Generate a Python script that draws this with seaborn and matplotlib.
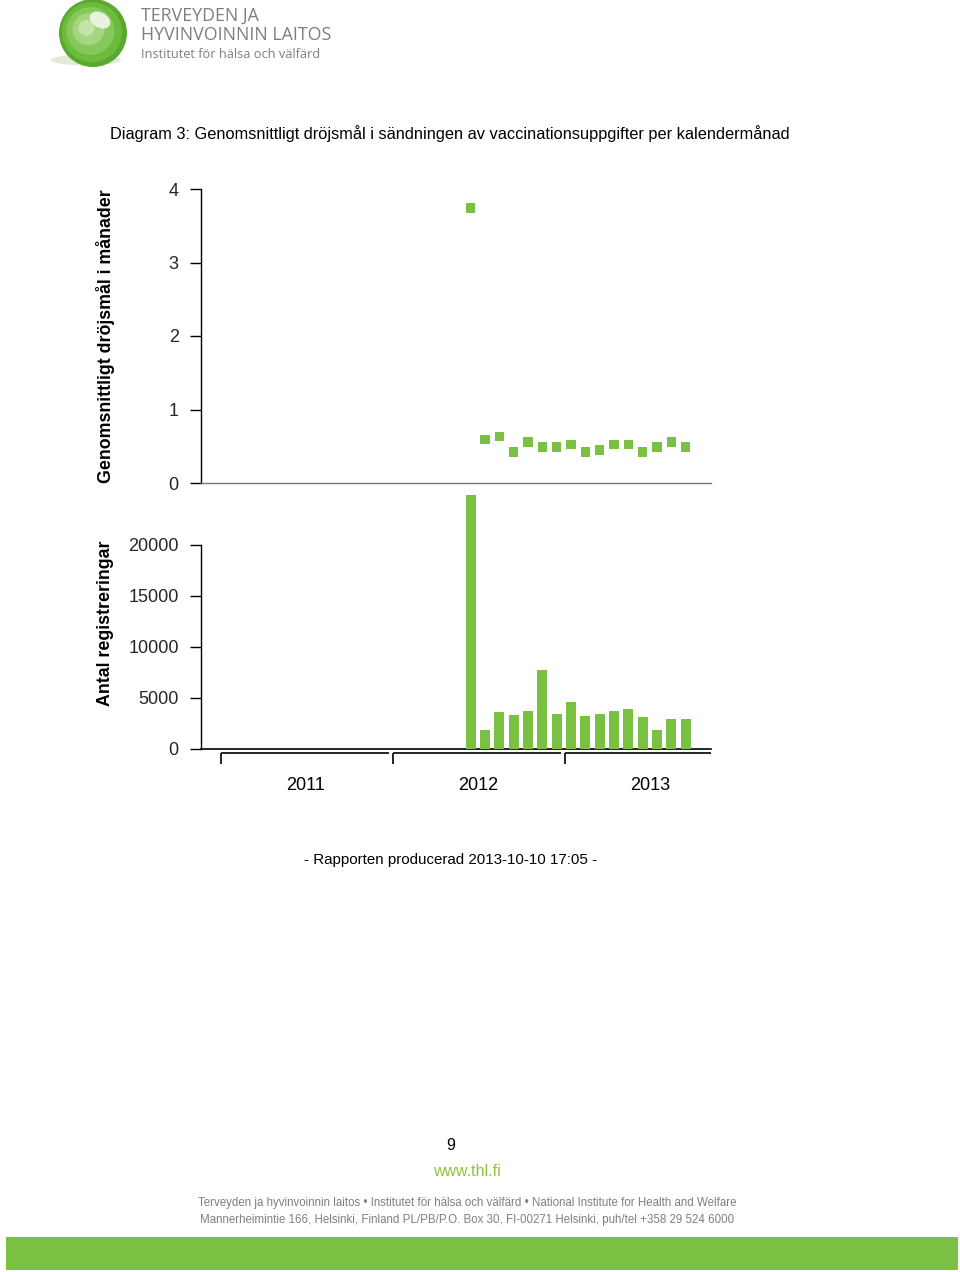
import matplotlib
matplotlib.use("Agg")
import matplotlib.pyplot as plt
import matplotlib.patches as mpatches
import numpy as np
import pandas as pd
import seaborn as sns

# ---------------- data ----------------
months = ["2012-06", "2012-07", "2012-08", "2012-09", "2012-10", "2012-11",
          "2012-12", "2013-01", "2013-02", "2013-03", "2013-04", "2013-05",
          "2013-06", "2013-07", "2013-08", "2013-09"]
delay_months = [3.74, 0.59, 0.63, 0.42, 0.56, 0.49, 0.49, 0.52,
                0.42, 0.45, 0.52, 0.52, 0.42, 0.49, 0.56, 0.49]
registrations = [24900, 1870, 3580, 3340, 3710, 7770, 3440, 4590,
                 3250, 3410, 3770, 3900, 3180, 1900, 2980, 2950]
years = ["2011", "2012", "2013"]
top_yticks = [0, 1, 2, 3, 4]
bottom_yticks = [0, 5000, 10000, 15000, 20000]

title = "Diagram 3: Genomsnittligt dröjsmål i sändningen av vaccinationsuppgifter per kalendermånad"
ylabel_top = "Genomsnittligt dröjsmål i månader"
ylabel_bottom = "Antal registreringar"

# ---------------- prep ----------------
def month_pos(s):
    y, m = s.split("-")
    return (int(y) - 2011) * 12 + (int(m) - 1) + 0.5

df = pd.DataFrame({"month": months, "delay": delay_months, "n": registrations})
df["x"] = df["month"].map(month_pos)

GREEN = "#7ac143"
FONT = ["Liberation Sans", "DejaVu Sans"]

sns.set_theme(style="white")
plt.rcParams["font.family"] = FONT

W, H = 960, 1272
fig = plt.figure(figsize=(W / 100, H / 100), dpi=100)

def fx(px):
    return px / W

def fy(py):
    return 1 - py / H

xl, xr = 201, 711
month_px = 14.33
x0_px = 220
xlim = ((xl - x0_px) / month_px, (xr - x0_px) / month_px)

# top axes: y 189..483
ax_top = fig.add_axes([fx(xl), fy(483), fx(xr - xl), (483 - 189) / H])
# bottom axes: y 483..749 (0 at 749, 20000 at 545)
ax_bot = fig.add_axes([fx(xl), fy(749), fx(xr - xl), (749 - 483) / H])

sns.scatterplot(data=df, x="x", y="delay", marker="s", s=46, color=GREEN,
                edgecolor="none", linewidth=0, ax=ax_top, zorder=3)
sns.barplot(data=df, x="x", y="n", native_scale=True, width=0.7, color=GREEN,
            saturation=1, edgecolor="none", linewidth=0, ax=ax_bot, zorder=3)

# top axes styling
ax_top.set_xlim(*xlim)
ax_top.set_ylim(0, 4)
ax_top.set_yticks(top_yticks)
ax_top.set_yticklabels([str(t) for t in top_yticks])
ax_top.set_xticks([])
ax_top.set_xlabel("")
ax_top.set_ylabel("")
for s in ["top", "right"]:
    ax_top.spines[s].set_visible(False)
ax_top.spines["left"].set_color("black")
ax_top.spines["left"].set_linewidth(1.0)
ax_top.spines["bottom"].set_color("#777777")
ax_top.spines["bottom"].set_linewidth(1.0)
ax_top.tick_params(axis="y", direction="out", length=8, width=1, color="black",
                   labelsize=13, pad=8, left=True)
ax_top.patch.set_alpha(0)

# bottom axes styling
ymax_bot = 20000 * (749 - 483) / (749 - 545)
ax_bot.set_xlim(*xlim)
ax_bot.set_ylim(0, ymax_bot)
ax_bot.set_yticks(bottom_yticks)
ax_bot.set_yticklabels([str(t) for t in bottom_yticks])
ax_bot.set_xticks([])
ax_bot.set_xlabel("")
ax_bot.set_ylabel("")
for s in ["top", "right"]:
    ax_bot.spines[s].set_visible(False)
ax_bot.spines["left"].set_bounds(0, 20000)
ax_bot.spines["left"].set_color("black")
ax_bot.spines["bottom"].set_color("black")
ax_bot.spines["left"].set_linewidth(1.0)
ax_bot.spines["bottom"].set_linewidth(1.2)
ax_bot.tick_params(axis="y", direction="out", length=8, width=1, color="black",
                   labelsize=13, pad=8, left=True)
ax_bot.patch.set_alpha(0)

# year brackets below the axis
tr = ax_bot.get_xaxis_transform()
hb = 749 - 483
y_line = -4.5 / hb
y_tick = -15.5 / hb
for i, yr in enumerate(years):
    start = i * 12
    end = min((i + 1) * 12, xlim[1])
    ax_bot.plot([start + 0.05, end - (0.2 if i < 2 else 0)], [y_line, y_line],
                color="black", lw=1.2, transform=tr, clip_on=False,
                solid_capstyle="butt")
    ax_bot.plot([start + 0.05, start + 0.05], [y_line, y_tick], color="black",
                lw=1.2, transform=tr, clip_on=False, solid_capstyle="butt")
    ax_bot.text(start + 6, -37 / hb, yr, transform=tr, ha="center", va="center",
                fontsize=13, color="black")

# axis labels
fig.text(fx(106), fy(336), ylabel_top, rotation=90, ha="center", va="center",
         fontsize=12.8, fontweight="bold", color="black")
fig.text(fx(106), fy(623), ylabel_bottom, rotation=90, ha="center", va="center",
         fontsize=12.8, fontweight="bold", color="black")

# title
fig.text(fx(110), fy(134), title, ha="left", va="center", fontsize=11.8,
         color="black")

fig.text(fx(451), fy(860), "- Rapporten producerad 2013-10-10 17:05 -",
         ha="center", va="center", fontsize=10.9, color="black")

# logo
logo_ax = fig.add_axes([0, fy(80), fx(360), 80 / H])
logo_ax.set_xlim(0, 360)
logo_ax.set_ylim(80, 0)
logo_ax.axis("off")
logo_ax.add_patch(mpatches.Ellipse((86, 60), 70, 11, color="#e2ead9", lw=0))
for r, c in [(34, "#5aa832"), (30, "#6cbb3c"), (24, "#86c95a"), (16, "#a4d67f"), (8, "#c4e3a9")]:
    logo_ax.add_patch(mpatches.Circle((93 - (34 - r) * 0.25, 33 - (34 - r) * 0.2), r, color=c, lw=0))
logo_ax.add_patch(mpatches.Ellipse((100, 20), 22, 15, angle=30, color="#e8f3df", lw=0))
LOGO_FONT = ["Open Sans", "DejaVu Sans"]
logo_ax.text(141, 16, "TERVEYDEN JA", fontsize=12.8, color="#7f7f7f", va="center",
             ha="left", family=LOGO_FONT)
logo_ax.text(141, 35, "HYVINVOINNIN LAITOS", fontsize=12.8, color="#7f7f7f",
             va="center", ha="left", family=LOGO_FONT)
logo_ax.text(141, 54, "Institutet för hälsa och välfärd", fontsize=9.2,
             color="#7f7f7f", va="center", ha="left", family=LOGO_FONT)

# footer
fig.text(fx(451), fy(1145), "9", ha="center", va="center", fontsize=11.5,
         color="black")
fig.text(fx(467), fy(1171), "www.thl.fi", ha="center", va="center",
         fontsize=11.5, color="#8cc63f")
fig.text(fx(467), fy(1203),
         "Terveyden ja hyvinvoinnin laitos \u2022 Institutet för hälsa och välfärd \u2022 National Institute for Health and Welfare",
         ha="center", va="center", fontsize=8.3, color="#7f7f7f")
fig.text(fx(467), fy(1220),
         "Mannerheimintie 166, Helsinki, Finland PL/PB/P.O. Box 30, FI-00271 Helsinki, puh/tel +358 29 524 6000",
         ha="center", va="center", fontsize=8.3, color="#7f7f7f")
fig.patches.append(mpatches.Rectangle((fx(6), fy(1270)), fx(952), 33 / H,
                                      transform=fig.transFigure, color="#7ac143",
                                      lw=0, figure=fig))

fig.savefig("out.png", dpi=100)
